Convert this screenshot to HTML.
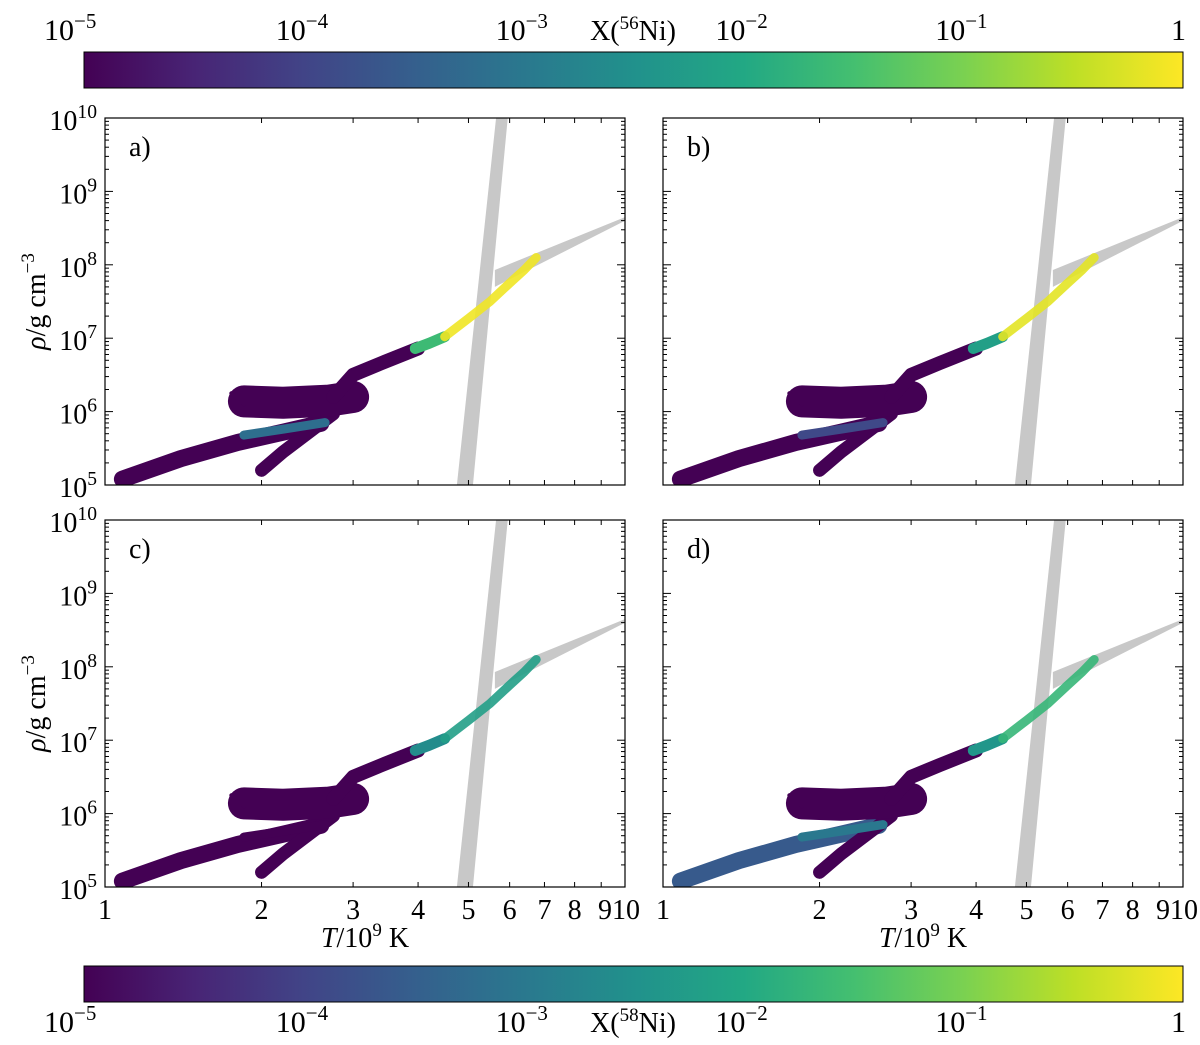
<!DOCTYPE html>
<html><head><meta charset="utf-8"><style>
body{margin:0;background:#fff;}
svg text{font-family:"Liberation Serif",serif;fill:#000;}
</style></head><body>
<svg id="fig" width="1200" height="1040" viewBox="0 0 1200 1040" xmlns="http://www.w3.org/2000/svg">
<defs>
<linearGradient id="vir" x1="0" x2="1" y1="0" y2="0">
<stop offset="0" stop-color="#440154"/><stop offset="0.1" stop-color="#482475"/><stop offset="0.2" stop-color="#414487"/><stop offset="0.3" stop-color="#355f8d"/><stop offset="0.4" stop-color="#2a788e"/><stop offset="0.5" stop-color="#21918c"/><stop offset="0.6" stop-color="#22a884"/><stop offset="0.7" stop-color="#44bf70"/><stop offset="0.8" stop-color="#7ad151"/><stop offset="0.9" stop-color="#bddf26"/><stop offset="1" stop-color="#fde725"/>
</linearGradient>
</defs>
<g id="cbtop"></g>
<g id="cbbot"></g>
<g id="panels"></g>
</svg>
<script>
const NS="http://www.w3.org/2000/svg";
const cbTicks=[-5,-4,-3,-2,-1,0];
const panelLabels=['a)','b)','c)','d)'];
const xTicks=[1,2,3,4,5,6,7,8,9,10];
const xTickLabels=['1','2','3','4','5','6','7','8','9','10'];
const yTicks=[5,6,7,8,9,10];
const grayT=[4.75,5.1,5.95,5.65];
const grayR=[5,5,10,10];
const wedgeT=[5.62,5.62,10,10];
const wedgeR=[7.7,7.93,8.65,8.6];
const bandT=[[1.08,1.4,1.8,2.2,2.6],[2.0,2.2,2.45,2.75],[1.85,2.2,2.7,3.0],[1.75,1.85],[2.75,3.0,3.4,4.0],[3.95,4.2,4.5],[4.5,5.0,5.5,6.0,6.4,6.75],[1.85,2.2,2.65]];
const bandR=[[5.08,5.36,5.58,5.72,5.84],[5.2,5.45,5.7,5.97],[6.14,6.12,6.15,6.2],[6.25,6.1],[6.2,6.5,6.66,6.86],[6.86,6.93,7.02],[7.02,7.27,7.5,7.75,7.93,8.1],[5.68,5.76,5.85]];
const bandW=[17,13,32,4,14,11,9,9];
const colA=[-5,-5,-5,-5,-5,-1.6,-0.1,-3.2];
const colB=[-5,-5,-5,-5,-5,-2.2,-0.2,-3.9];
const colC=[-5,-5,-5,-5,-5,-2.6,-2.2,-5];
const colD=[-3.6,-5,-5,-5,-5,-2.4,-1.7,-3.0];
const panelCols=[colA,colB,colC,colD];

const vir=['#440154','#482475','#414487','#355f8d','#2a788e','#21918c','#22a884','#44bf70','#7ad151','#bddf26','#fde725'];
function viridis(lx){let t=(lx+5)/5;t=Math.max(0,Math.min(1,t));const f=t*10,i=Math.min(9,Math.floor(f)),r=f-i;
 const a=vir[i],b=vir[i+1];const c=k=>Math.round(parseInt(a.substr(k,2),16)*(1-r)+parseInt(b.substr(k,2),16)*r);
 return `rgb(${c(1)},${c(3)},${c(5)})`;}
function el(tag,attrs,parent,text){const e=document.createElementNS(NS,tag);for(const k in attrs)e.setAttribute(k,attrs[k]);if(text!==undefined)e.textContent=text;parent.appendChild(e);return e;}
function supLabel(parent,x,y,k,anchor,size){
 const t=el('text',{x:x,y:y,'font-size':size,'text-anchor':anchor},parent);
 if(k===0){t.textContent='1';return t;}
 el('tspan',{},t,'10');el('tspan',{dy:-12,'font-size':size*0.7},t,String(k).replace('-','−'));return t;}

function colorbar(g,y0,labelY,iso){
 const x0=84,w=1099,h=36;
 el('rect',{x:x0,y:y0,width:w,height:h,fill:'url(#vir)',stroke:'#000','stroke-width':1},g);
 cbTicks.forEach((k,i)=>{const x=x0+w*(k+5)/5;
  const lab=supLabel(g,i===0?x-40:(i===5?x-12:x-28),labelY,k,'start',30);
  
  
 });
 const t=el('text',{x:633,y:labelY,'font-size':28,'text-anchor':'middle'},g);
 
 
 el('tspan',{},t,'X(');el('tspan',{dy:-11,'font-size':19},t,iso);el('tspan',{dy:11},t,'Ni)');
}
colorbar(document.getElementById('cbtop'),52,40,'56');
colorbar(document.getElementById('cbbot'),966,1032,'58');

const boxes=[[105,118],[663,118],[105,520],[663,520]];
const PW=520,PH=367;
boxes.forEach((b,pi)=>{
 const g=el('g',{},document.getElementById('panels'));
 
 
 const X=T=>b[0]+PW*Math.log10(T);
 const Y=lr=>b[1]+PH-(lr-5)*PH/5;
 const cid='clip'+pi;
 const cp=el('clipPath',{id:cid},g);el('rect',{x:b[0],y:b[1],width:PW,height:PH},cp);
 const inner=el('g',{'clip-path':`url(#${cid})`},g);
 const gb=el('polygon',{points:grayT.map((t,i)=>X(t)+','+Y(grayR[i])).join(' '),fill:'#c8c8c8'},inner);
 
 
 const wd=el('polygon',{points:wedgeT.map((t,i)=>X(t)+','+Y(wedgeR[i])).join(' '),fill:'#c8c8c8'},inner);
 
 
 bandT.forEach((Ts,bi)=>{
  const col=panelCols[pi][bi];
  const pts=Ts.map((t,i)=>X(t)+','+Y(bandR[bi][i])).join(' ');
  const pl=el('polyline',{points:pts,fill:'none',stroke:viridis(col),'stroke-width':bandW[bi],'stroke-linecap':'round','stroke-linejoin':'round','opacity':bi===6?0.9:1},inner);
  
  
 });
 el('rect',{x:b[0],y:b[1],width:PW,height:PH,fill:'none',stroke:'#000','stroke-width':1.2},g);
 for(let d=1;d<10;d++){const x=X(d);el('line',{x1:x,x2:x,y1:b[1]+PH,y2:b[1]+PH-(d===1?8:5),stroke:'#000'},g);el('line',{x1:x,x2:x,y1:b[1],y2:b[1]+(d===1?8:5),stroke:'#000'},g);}
 for(let k=5;k<10;k++)for(let m=1;m<10;m++){const y=Y(k+Math.log10(m));const L=m===1?8:4;
  el('line',{x1:b[0],x2:b[0]+L,y1:y,y2:y,stroke:'#000'},g);el('line',{x1:b[0]+PW,x2:b[0]+PW-L,y1:y,y2:y,stroke:'#000'},g);}
 const pl=el('text',{x:b[0]+24,y:b[1]+38,'font-size':28},g,panelLabels[pi]);
 
 
 if(pi%2===0){
  yTicks.forEach(k=>{const t=supLabel(g,b[0]-8,Y(k)+12,k,'end',28);
   
   });
  const yt=el('text',{transform:`translate(${b[0]-60},${b[1]+PH/2}) rotate(-90)`,'font-size':28,'text-anchor':'middle'},g);
  
  
  el('tspan',{'font-style':'italic'},yt,'ρ');el('tspan',{},yt,'/g cm');el('tspan',{dy:-11,'font-size':19},yt,'−3');
 }
 if(pi>=2){
  xTicks.forEach((v,i)=>{if(v===9)return;const x=X(v)+(v===10?-6:0);
   const t=el('text',{x:x,y:b[1]+PH+32,'font-size':28,'text-anchor':'middle'},g,v===10?'910':xTickLabels[i]);
   
   });
  const xt=el('text',{x:b[0]+260,y:b[1]+PH+60,'font-size':28,'text-anchor':'middle'},g);
  
  
  el('tspan',{'font-style':'italic'},xt,'T');el('tspan',{},xt,'/10');el('tspan',{dy:-11,'font-size':19},xt,'9');el('tspan',{dy:11},xt,' K');
 }
});
</script>
</body></html>
